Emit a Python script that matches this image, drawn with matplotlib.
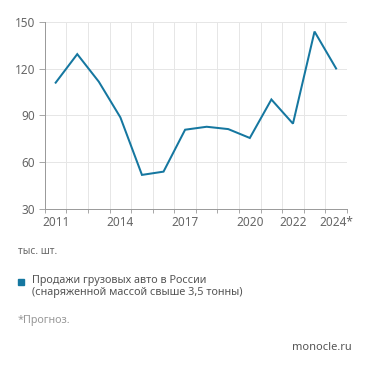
import matplotlib
matplotlib.use("Agg")
import matplotlib.pyplot as plt
import numpy as np

plt.rcParams['font.family'] = ['Noto Sans', 'DejaVu Sans']

years = ["2011", "2012", "2013", "2014", "2015", "2016", "2017",
         "2018", "2019", "2020", "2021", "2022", "2023", "2024*"]
sales = [111, 129.3, 111.6, 88.7, 51.8, 53.9, 80.8,
         82.7, 81.2, 75.5, 100.2, 84.7, 143.8, 120.1]
shown_labels = ["2011", "2014", "2017", "2020", "2022", "2024*"]
y_ticks = [30, 60, 90, 120, 150]

line_color = "#1577a0"
grid_color = "#e6e6e6"
axis_color = "#999999"
label_color = "#666666"

fig = plt.figure(figsize=(3.71, 3.71), dpi=100)
ax = fig.add_axes([0.121, 0.437, 0.814, 0.504])

x = np.arange(len(years))
ax.plot(x, sales, color=line_color, linewidth=1.45, solid_joinstyle='miter', zorder=3)

ax.set_xlim(-0.5, len(years) - 0.5)
ax.set_ylim(30, 150)
ax.set_yticks(y_ticks)

# подписи только для части лет, сетка по границам категорий
ax.set_xticks([years.index(y) for y in shown_labels])
ax.set_xticklabels(shown_labels)
ax.set_xticks(np.arange(-0.5, len(years)), minor=True)
ax.tick_params(axis='x', which='major', length=0, pad=5, labelsize=8.5, colors=label_color)
ax.tick_params(axis='x', which='minor', length=3, color=axis_color, width=0.6)
ax.tick_params(axis='y', length=4, color=axis_color, width=0.6, pad=3, labelsize=8.5, colors=label_color)

ax.grid(True, axis='x', which='minor', color=grid_color, linewidth=0.7, zorder=0)
ax.grid(True, axis='y', which='major', color=grid_color, linewidth=0.7, zorder=0)

for side in ["top", "right"]:
    ax.spines[side].set_visible(False)
for side in ["left", "bottom"]:
    ax.spines[side].set_color(axis_color)
    ax.spines[side].set_linewidth(0.7)

fig.text(18 / 371, 1 - 251 / 371, "тыс. шт.", fontsize=7.2, color="#666666", va='center')

fig.patches.append(plt.Rectangle((18 / 371, 1 - 285 / 371), 6 / 371, 6 / 371,
                                 transform=fig.transFigure, color=line_color))
fig.text(32 / 371, 1 - 280 / 371, "Продажи грузовых авто в России", fontsize=7.8,
         color="#555555", va='center')
fig.text(32 / 371, 1 - 293 / 371, "(снаряженной массой свыше 3,5 тонны)", fontsize=7.8,
         color="#555555", va='center')

fig.text(18 / 371, 1 - 320 / 371, "*Прогноз.", fontsize=7.8, color="#999999", va='center')
fig.text(352 / 371, 1 - 348 / 371, "monocle.ru", fontsize=8, color="#555555",
         va='center', ha='right')

fig.savefig("out.png", dpi=100, facecolor="white")
